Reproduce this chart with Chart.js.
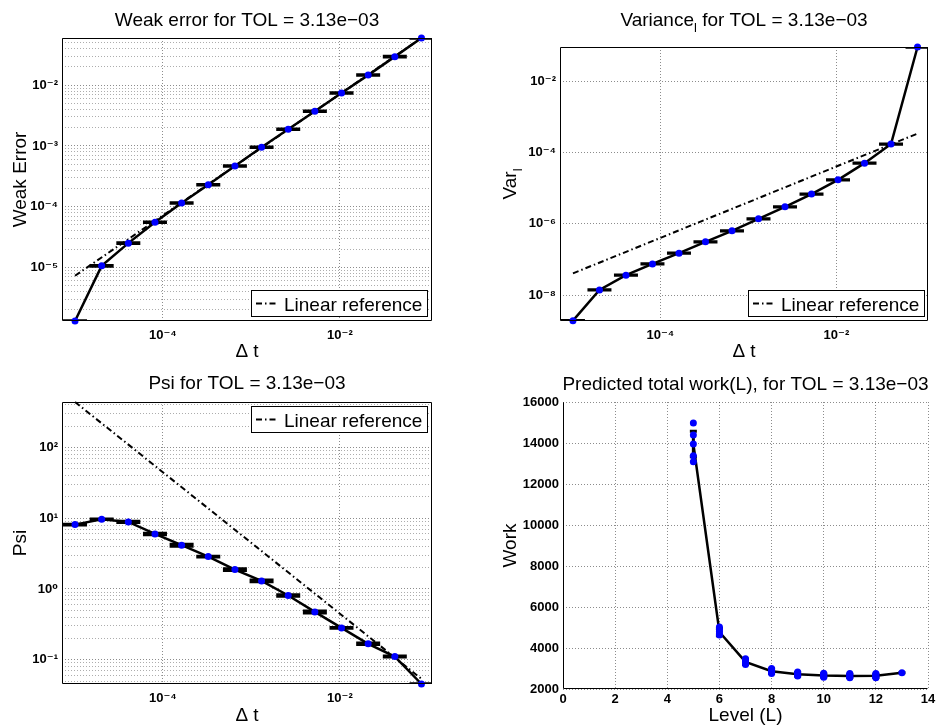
<!DOCTYPE html>
<html><head><meta charset="utf-8">
<script src="https://cdn.jsdelivr.net/npm/chart.js@4.4.0/dist/chart.umd.min.js"></script>
<style>
html,body{margin:0;padding:0;background:#fff;}
#wrap{position:relative;width:940px;height:727px;overflow:hidden;background:#fff;}
canvas{position:absolute;left:0;top:0;}
</style></head><body>
<div id="wrap">
<canvas id="cTL" width="940" height="727"></canvas>
<canvas id="cTR" width="940" height="727"></canvas>
<canvas id="cBL" width="940" height="727"></canvas>
<canvas id="cBR" width="940" height="727"></canvas>
</div>
<script>
const FONT = "'Liberation Sans', Arial, 'DejaVu Sans', sans-serif";

// ---------------- data ----------------
const dt = [1.0173e-5, 2.0345e-5, 4.069e-5, 8.138e-5, 1.6276e-4, 3.2552e-4, 6.5104e-4,
            1.30208e-3, 2.60417e-3, 5.20833e-3, 1.041667e-2, 2.08333e-2, 4.16667e-2, 8.33333e-2];
const weakErr = [1.31e-6, 1.06e-5, 2.51e-5, 5.53e-5, 1.15e-4, 2.30e-4, 4.67e-4,
                 9.5e-4, 1.88e-3, 3.73e-3, 7.47e-3, 1.47e-2, 2.96e-2, 6.0e-2];
const weakErrRel = [0.01, 0.01, 0.01, 0.01, 0.01, 0.01, 0.01, 0.01, 0.01, 0.01, 0.01, 0.01, 0.01, 0.01];
const refDt = [1.0173e-5, 8.33333e-2];
const weakRef = [7.3e-6, 0.06];

const varL = [1.94e-9, 1.41e-8, 3.64e-8, 7.55e-8, 1.51e-7, 3.13e-7, 6.37e-7,
              1.38e-6, 3.0e-6, 6.8e-6, 1.71e-5, 5.0e-5, 1.71e-4, 0.0897];
const varErrRel = [0.01, 0.01, 0.01, 0.01, 0.01, 0.01, 0.01, 0.01, 0.01, 0.01, 0.01, 0.01, 0.01, 0.01];
const varRef = [4.1e-8, 3.37e-4];

const psi = [8.13, 9.68, 8.87, 6.01, 4.16, 2.87, 1.88, 1.30, 0.81, 0.474, 0.282, 0.168, 0.111, 0.0454];
const psiErrRel = [0.01, 0.005, 0.02, 0.025, 0.03, 0.01, 0.03, 0.03, 0.025, 0.035, 0.015, 0.025, 0.015, 0.005];
const psiRef = [440, 0.0537];

const levels = [5, 6, 7, 8, 9, 10, 11, 12, 13];
const workMean = [13950, 4780, 3320, 2870, 2720, 2660, 2640, 2645, 2790];
const workErr = [620, 180, 130, 100, 80, 80, 80, 80, 0];
const workSamples = [
  [14970, 14390, 13950, 13380, 13080],
  [5020, 4900, 4800, 4700, 4640],
  [3480, 3400, 3330, 3260, 3200],
  [3000, 2930, 2870, 2810, 2760],
  [2830, 2770, 2720, 2670, 2630],
  [2770, 2710, 2660, 2610, 2570],
  [2760, 2700, 2640, 2590, 2550],
  [2760, 2700, 2645, 2590, 2550],
  [2790]
];

// tick labels
const dtTickVals = [1e-4, 1e-2];
const dtTickLabels = ['10\u207B\u2074', '10\u207B\u00B2'];
const weakTickVals = [1e-5, 1e-4, 1e-3, 1e-2];
const weakTickLabels = ['10\u207B\u2075', '10\u207B\u2074', '10\u207B\u00B3', '10\u207B\u00B2'];
const varTickVals = [1e-8, 1e-6, 1e-4, 1e-2];
const varTickLabels = ['10\u207B\u2078', '10\u207B\u2076', '10\u207B\u2074', '10\u207B\u00B2'];
const psiTickVals = [0.1, 1, 10, 100];
const psiTickLabels = ['10\u207B\u00B9', '10\u2070', '10\u00B9', '10\u00B2'];
const levelTickVals = [0, 2, 4, 6, 8, 10, 12, 14];
const workTickVals = [2000, 4000, 6000, 8000, 10000, 12000, 14000, 16000];

// ---------------- helpers ----------------
const tickFont = {family: FONT, size: 13, weight: 'bold'};
const labFont = {family: FONT, size: 19};
const GRID_MAJOR = 'rgba(0,0,0,0.45)';
const GRID_MINOR = 'rgba(0,0,0,0.32)';

function logAxis(min, max, vals, labels, minor, fitFn, titleOpt, pad) {
  return {
    type: 'logarithmic', min: min, max: max, bounds: 'data',
    afterBuildTicks: (s) => {
      const t = [];
      if (minor) {
        const e0 = Math.floor(Math.log10(min)), e1 = Math.ceil(Math.log10(max));
        for (let e = e0; e <= e1; e++) for (let k = 1; k <= 9; k++) {
          const v = k * Math.pow(10, e);
          if (v >= min * 0.9999 && v <= max * 1.0001) t.push({value: v});
        }
      } else vals.forEach(v => t.push({value: v}));
      s.ticks = t;
    },
    afterFit: fitFn,
    ticks: {
      autoSkip: false, maxRotation: 0, padding: pad, color: '#000', font: tickFont,
      callback: (v) => {
        const i = vals.findIndex(x => Math.abs(x - v) / x < 1e-6);
        return i >= 0 ? labels[i] : '';
      }
    },
    grid: {
      drawTicks: false, lineWidth: 1,
      color: (c) => {
        const v = c.tick ? c.tick.value : null;
        if (v === null) return 'transparent';
        const isMaj = vals.some(x => Math.abs(x - v) / x < 1e-6);
        return isMaj ? GRID_MAJOR : GRID_MINOR;
      }
    },
    border: {display: false, dash: [1, 2]},
    title: titleOpt
  };
}

function pts(xs, ys) { return xs.map((x, i) => ({x: x, y: ys[i]})); }

function drawRich(ctx, segs, x, y, size, rot) {
  ctx.save();
  ctx.translate(x, y);
  if (rot) ctx.rotate(rot);
  const ws = [];
  let w = 0;
  segs.forEach(s => {
    ctx.font = (s.sub ? Math.round(size * 0.68) : size) + 'px ' + FONT;
    const m = ctx.measureText(s.t).width; ws.push(m); w += m;
  });
  let cx = -w / 2;
  ctx.fillStyle = '#000';
  ctx.textBaseline = 'alphabetic';
  ctx.textAlign = 'left';
  segs.forEach((s, i) => {
    ctx.font = (s.sub ? Math.round(size * 0.68) : size) + 'px ' + FONT;
    ctx.fillText(s.t, cx, s.sub ? size * 0.3 : 0);
    cx += ws[i];
  });
  ctx.restore();
}

function makePlugin(o) {
  return {
    id: 'mfig',
    beforeDatasetsDraw(chart) {
      if (!o.caps) return;
      const {ctx, chartArea: a} = chart;
      const xs = chart.scales.x, ys = chart.scales.y;
      const c = o.caps;
      ctx.save();
      ctx.beginPath(); ctx.rect(a.left, a.top, a.right - a.left, a.bottom - a.top); ctx.clip();
      ctx.strokeStyle = '#000'; ctx.lineWidth = c.lw; ctx.lineCap = 'butt';
      c.xs.forEach((xv, i) => {
        const px = xs.getPixelForValue(xv);
        const pl = ys.getPixelForValue(c.lo[i]), ph = ys.getPixelForValue(c.hi[i]);
        ctx.beginPath();
        ctx.moveTo(px, pl); ctx.lineTo(px, ph);
        ctx.moveTo(px - c.half, pl); ctx.lineTo(px + c.half, pl);
        ctx.moveTo(px - c.half, ph); ctx.lineTo(px + c.half, ph);
        ctx.stroke();
      });
      ctx.restore();
    },
    afterDraw(chart) {
      const {ctx, chartArea: a} = chart;
      ctx.save();
      ctx.strokeStyle = '#000'; ctx.lineWidth = 1;
      const L = Math.round(a.left) + 0.5, R = Math.round(a.right) - 0.5;
      const T = Math.round(a.top) + 0.5, B = Math.round(a.bottom) - 0.5;
      ctx.beginPath();
      if (o.box) { ctx.rect(L, T, R - L, B - T); }
      else { ctx.moveTo(L, T); ctx.lineTo(L, B); ctx.lineTo(R, B); }
      ctx.stroke();
      ctx.restore();
      if (o.title) drawRich(ctx, o.title.segs, (a.left + a.right) / 2, o.title.y, 19, 0);
      if (o.ylab) drawRich(ctx, o.ylab.segs, o.ylab.x, (a.top + a.bottom) / 2, 19, -Math.PI / 2);
      if (o.legend) {
        const ds = chart.data.datasets[o.legend.index];
        ctx.save();
        ctx.font = '19px ' + FONT;
        const tw = ctx.measureText(ds.label).width;
        const w = Math.round(5 + 22 + 6 + tw + 5), h = 26;
        const x = Math.round(a.right - o.legend.dx - w);
        const y = Math.round(o.legend.corner === 'se' ? a.bottom - o.legend.dy - h : a.top + o.legend.dy);
        ctx.fillStyle = '#fff'; ctx.fillRect(x, y, w, h);
        ctx.strokeStyle = '#000'; ctx.lineWidth = 1; ctx.strokeRect(x + 0.5, y + 0.5, w, h);
        ctx.setLineDash(ds.borderDash); ctx.lineWidth = ds.borderWidth;
        ctx.beginPath(); ctx.moveTo(x + 5, y + h / 2 + 0.5); ctx.lineTo(x + 27, y + h / 2 + 0.5); ctx.stroke();
        ctx.setLineDash([]);
        ctx.fillStyle = '#000'; ctx.textBaseline = 'alphabetic'; ctx.textAlign = 'left';
        ctx.fillText(ds.label, x + 33, y + h / 2 + 7.5);
        ctx.restore();
      }
    }
  };
}

const REFDASH = [6, 3, 1.5, 3];
const XMIN = 7.25e-6, XMAX = 0.1096;

function mainDs(ys) {
  return {label: 'data', data: pts(dt, ys), showLine: true, borderColor: '#000', borderWidth: 2.5,
          pointRadius: 3.5, pointBackgroundColor: '#0000ff', pointBorderWidth: 0, pointHoverRadius: 3.5,
          clip: false, tension: 0};
}
function refDs(ys) {
  return {label: 'Linear reference', data: pts(refDt, ys), showLine: true, borderColor: '#000',
          borderWidth: 2, borderDash: REFDASH, pointRadius: 0, pointHoverRadius: 0, clip: false, tension: 0};
}
function baseOpts(pad, scales) {
  return {
    responsive: false, animation: false, devicePixelRatio: 1, events: [],
    layout: {padding: pad},
    plugins: {legend: {display: false}, tooltip: {enabled: false}, title: {display: false}},
    scales: scales
  };
}
function xTitle() { return {display: true, text: '\u0394 t', color: '#000', font: labFont, padding: {top: 0, bottom: 0}}; }
function yTitle(t, p) { return {display: true, text: t, color: '#000', font: labFont, padding: {top: p, bottom: 0}}; }
function capsLog(ys, rel) {
  return {xs: dt, lo: ys.map((v, i) => v * (1 - rel[i])), hi: ys.map((v, i) => v * (1 + rel[i])), half: 12, lw: 3};
}

// ---------- Top-left: weak error ----------
new Chart(document.getElementById('cTL'), {
  type: 'scatter',
  data: {datasets: [mainDs(weakErr), refDs(weakRef)]},
  options: baseOpts({left: 0, top: 38, right: 508, bottom: 364}, {
      x: logAxis(XMIN, XMAX, dtTickVals, dtTickLabels, false, s => { s.height = 42; }, xTitle(), 7),
      y: logAxis(1.31e-6, 0.06, weakTickVals, weakTickLabels, true, s => { s.width = 62; }, yTitle('Weak Error', 9), 4)
    }),
  plugins: [makePlugin({
      box: true, caps: capsLog(weakErr, weakErrRel),
      title: {y: 26, segs: [{t: 'Weak error for TOL = 3.13e\u221203'}]},
      legend: {index: 1, corner: 'se', dx: 5, dy: 5}
    })]
});

// ---------- Top-right: variance ----------
new Chart(document.getElementById('cTR'), {
  type: 'scatter',
  data: {datasets: [mainDs(varL), refDs(varRef)]},
  options: baseOpts({left: 470, top: 47, right: 12, bottom: 364}, {
      x: logAxis(XMIN, XMAX, dtTickVals, dtTickLabels, false, s => { s.height = 42; }, xTitle(), 7),
      y: logAxis(1.9e-9, 0.0897, varTickVals, varTickLabels, false, s => { s.width = 90; }, {display: false}, 4)
    }),
  plugins: [makePlugin({
      box: true, caps: capsLog(varL, varErrRel),
      title: {y: 26, segs: [{t: 'Variance'}, {t: 'l', sub: true}, {t: ' for TOL = 3.13e\u221203'}]},
      ylab: {x: 516, segs: [{t: 'Var'}, {t: 'l', sub: true}]},
      legend: {index: 1, corner: 'se', dx: 4, dy: 5}
    })]
});

// ---------- Bottom-left: psi ----------
new Chart(document.getElementById('cBL'), {
  type: 'scatter',
  data: {datasets: [mainDs(psi), refDs(psiRef)]},
  options: baseOpts({left: 0, top: 402, right: 508, bottom: 0}, {
      x: logAxis(XMIN, XMAX, dtTickVals, dtTickLabels, false, s => { s.height = 43; }, xTitle(), 7),
      y: logAxis(0.0454, 440, psiTickVals, psiTickLabels, true, s => { s.width = 62; }, yTitle('Psi', 9), 4)
    }),
  plugins: [makePlugin({
      box: true, caps: capsLog(psi, psiErrRel),
      title: {y: 389, segs: [{t: 'Psi for TOL = 3.13e\u221203'}]},
      legend: {index: 1, corner: 'ne', dx: 5, dy: 4}
    })]
});

// ---------- Bottom-right: work ----------
const samplePts = [];
levels.forEach((L, i) => workSamples[i].forEach(v => samplePts.push({x: L, y: v})));
new Chart(document.getElementById('cBR'), {
  type: 'scatter',
  data: {datasets: [
    {label: 'samples', data: samplePts, showLine: false, pointRadius: 3.5, pointBackgroundColor: '#0000ff',
     pointBorderWidth: 0, pointHoverRadius: 3.5, clip: false},
    {label: 'mean', data: pts(levels, workMean), showLine: true, borderColor: '#000', borderWidth: 2.5,
     pointRadius: 0, pointHoverRadius: 0, clip: false, tension: 0}
  ]},
  options: baseOpts({left: 470, top: 402, right: 12, bottom: 0}, {
      x: {type: 'linear', min: 0, max: 14, bounds: 'data',
          afterBuildTicks: s => { s.ticks = levelTickVals.map(v => ({value: v})); },
          afterFit: s => { s.height = 38; },
          ticks: {color: '#000', font: tickFont, padding: 3, autoSkip: false, maxRotation: 0, callback: v => String(v)},
          grid: {drawTicks: false, color: GRID_MAJOR, lineWidth: 1},
          border: {display: false, dash: [1, 2]},
          title: {display: true, text: 'Level (L)', color: '#000', font: labFont, padding: {top: 0, bottom: 0}}},
      y: {type: 'linear', min: 2000, max: 16000, bounds: 'data',
          afterBuildTicks: s => { s.ticks = workTickVals.map(v => ({value: v})); },
          afterFit: s => { s.width = 93; },
          ticks: {color: '#000', font: tickFont, padding: 4, autoSkip: false, callback: v => String(v)},
          grid: {drawTicks: false, color: GRID_MAJOR, lineWidth: 1},
          border: {display: false, dash: [1, 2]},
          title: {display: true, text: 'Work', color: '#000', font: labFont, padding: {top: 29, bottom: 0}}}
    }),
  plugins: [makePlugin({
      box: false,
      caps: {xs: levels, lo: workMean.map((v, i) => v - workErr[i]), hi: workMean.map((v, i) => v + workErr[i]), half: 3.5, lw: 3},
      title: {y: 390, segs: [{t: 'Predicted total work(L), for TOL = 3.13e\u221203'}]}
    })]
});
</script>
</body></html>
